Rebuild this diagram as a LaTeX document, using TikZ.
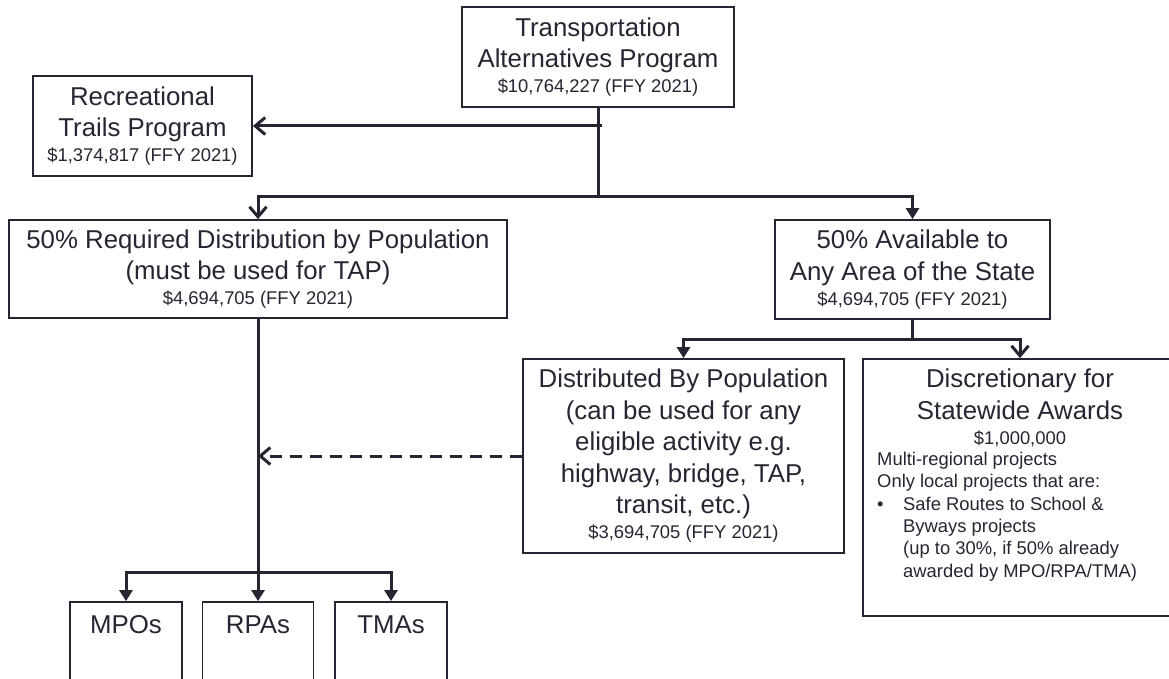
\documentclass[tikz,border=0pt]{standalone}
\usepackage{fontspec}
\setmainfont{Liberation Sans}
\usetikzlibrary{arrows.meta}
\definecolor{ink}{RGB}{38,38,50}
\newcommand\bigtxt{\fontsize{25.8}{31.5}\selectfont}
\newcommand\smtxt{\fontsize{18.4}{22.3}\selectfont}
\begin{document}
\begin{tikzpicture}[x=1pt,y=-1pt,
  box/.style={draw=ink, line width=1.8pt, fill=white, inner sep=0pt, font=\bigtxt, text=ink, align=center},
  plain/.style={inner sep=0pt, text=ink},
  conn/.style={draw=ink, line width=3pt},
  tipfill/.style={-{Triangle[length=11pt,width=13pt]}},
  tipopen/.style={-{Straight Barb[length=10pt,width=17pt]}},
  dashline/.style={dash pattern=on 12pt off 8pt}]
\clip (0,0) rectangle (1169,679);
\fill[white] (0,0) rectangle (1169,679);

% boxes
\node[box, minimum width=272pt, minimum height=100pt] (tap) at (598,57)
  {Transportation\\Alternatives Program\\[-6.5pt]{\smtxt \$10,764,227 (FFY 2021)}};
\node[box, minimum width=219pt, minimum height=100pt] (rtp) at (142.5,126)
  {Recreational\\Trails Program\\[-6.5pt]{\smtxt \$1,374,817 (FFY 2021)}};
\node[box, minimum width=498pt, minimum height=98pt] (req) at (258,269)
  {50\% Required Distribution by Population\\(must be used for TAP)\\[-6.5pt]{\smtxt \$4,694,705 (FFY 2021)}};
\node[box, minimum width=275pt, minimum height=99pt] (avail) at (912.5,269.5)
  {50\% Available to\\Any Area of the State\\[-6.5pt]{\smtxt \$4,694,705 (FFY 2021)}};
\node[box, minimum width=321pt, minimum height=194pt] (dist) at (683.5,456)
  {Distributed By Population\\(can be used for any\\eligible activity e.g.\\highway, bridge, TAP,\\transit, etc.)\\[-6.5pt]{\smtxt \$3,694,705 (FFY 2021)}};
\node[box, minimum width=314pt, minimum height=257pt] (disc) at (1020,487.5) {};
\node[plain, font=\bigtxt, align=center, anchor=north] (disctitle) at (1020,369)
  {Discretionary for\\Statewide Awards\\[-6.5pt]{\smtxt \$1,000,000}};
\node[plain, font=\smtxt, align=left, anchor=north west] (disclist) at (877,452)
  {Multi-regional projects\\
   Only local projects that are:\\
   \makebox[26pt][l]{\textbullet}Safe Routes to School \&\\
   \makebox[26pt][l]{}Byways projects\\
   \makebox[26pt][l]{}(up to 30\%, if 50\% already\\
   \makebox[26pt][l]{}awarded by MPO/RPA/TMA)};
\node[box, minimum width=112pt, text height=31pt, text depth=67pt] (mpo) at (126,651) {MPOs};
\node[box, minimum width=111pt, text height=31pt, text depth=67pt] (rpa) at (258,651) {RPAs};
\node[box, minimum width=112pt, text height=31pt, text depth=67pt] (tma) at (391,651) {TMAs};

% connectors
\coordinate (b1) at (598,197);
\coordinate (r1) at (602,126);
\coordinate (b2) at (912.5,339);
\coordinate (b3) at (258,572);
\draw[conn] (tap.south) -- (b1);
\draw[conn, tipopen] (r1) -- (rtp.east);
\draw[conn, tipopen] (b1) -| (req.north);
\draw[conn, tipfill] (b1) -| (avail.north);
\draw[conn] (avail.south) -- (b2);
\draw[conn, tipfill] (b2) -| (dist.north);
\draw[conn, tipopen] (b2) -| (disc.north);
\draw[conn, tipfill] (req.south) -- (rpa.north);
\draw[conn, tipfill] (b3) -| (mpo.north);
\draw[conn, tipfill] (b3) -| (tma.north);
\draw[conn, dashline, tipopen] (dist.west) -- (dist.west -| req.south);
\end{tikzpicture}
\end{document}
